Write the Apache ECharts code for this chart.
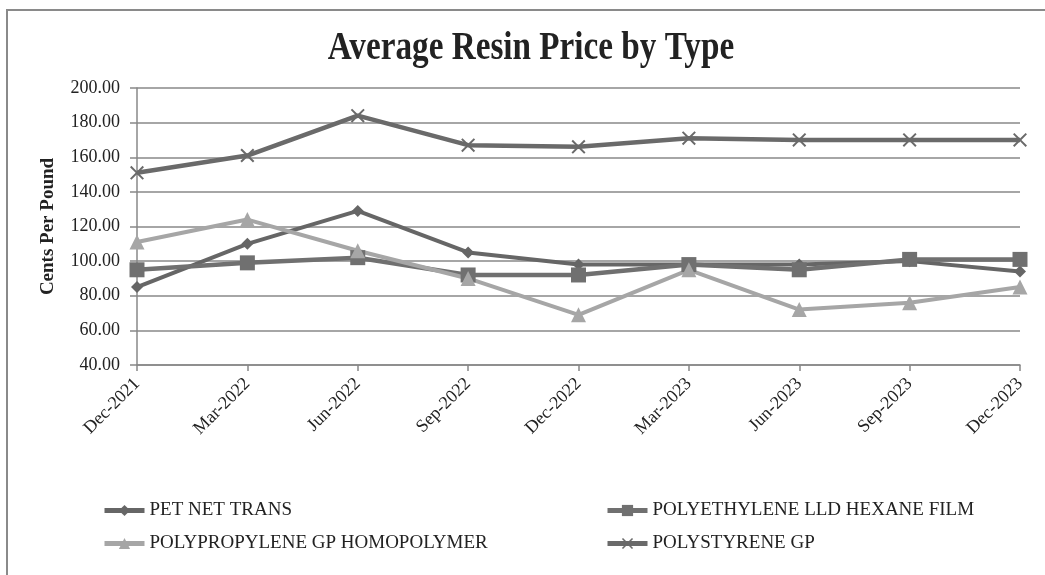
<!DOCTYPE html>
<html><head><meta charset="utf-8">
<script src="https://cdn.jsdelivr.net/npm/echarts@6/dist/echarts.min.js"></script>
<style>html,body{margin:0;padding:0;background:#fff}#c{width:1045px;height:575px}</style>
</head><body><div id="c"></div>
<script>
const categories = ['Dec-2021','Mar-2022','Jun-2022','Sep-2022','Dec-2022','Mar-2023','Jun-2023','Sep-2023','Dec-2023'];
const petNetTrans = [85, 110, 129, 105, 98, 98, 98, 100, 94];
const polyethyleneLLD = [95, 99, 102, 92, 92, 98, 95, 101, 101];
const polypropyleneGP = [111, 124, 106, 90, 69, 95, 72, 76, 85];
const polystyreneGP = [151, 161, 184, 167, 166, 171, 170, 170, 170];
const names = ['PET NET TRANS','POLYETHYLENE LLD HEXANE FILM','POLYPROPYLENE GP HOMOPOLYMER','POLYSTYRENE GP'];
const titleText = 'Average Resin Price by Type';

const font = '"Liberation Serif", "Times New Roman", serif';
const xSym = 'path://M0,1L1,0L5,4L9,0L10,1L6,5L10,9L9,10L5,6L1,10L0,9L4,5Z';
const chart = echarts.init(document.getElementById('c'));
function ser(name, data, color, symbol, size, width) {
  return { name, type: 'line', data, symbol, symbolSize: size, showAllSymbol: true,
    lineStyle: { color, width: width || 4 }, itemStyle: { color }, animation: false };
}
const legendText = { fontFamily: font, fontSize: 19, color: '#222' };
const legendBase = { orient: 'vertical', top: 496, itemWidth: 40, itemHeight: 14, itemGap: 14,
  lineStyle: { width: 5 }, textStyle: legendText };
chart.setOption({
  animation: false,
  textStyle: { fontFamily: font },
  graphic: [
    { type: 'rect', shape: { x: 7, y: 10, width: 1060, height: 600 },
      style: { fill: 'none', stroke: '#8a8a8a', lineWidth: 2 }, silent: true },
    { type: 'text', x: 531, y: 49, scaleX: 0.83, originX: 0, originY: 0, silent: true,
      style: { text: titleText, fontFamily: font, fontSize: 40, fontWeight: 'bold', fill: '#222',
        textAlign: 'center', textVerticalAlign: 'middle' } }
  ],
  grid: { left: 137, right: 25, top: 88, bottom: 210 },
  legend: [
    Object.assign({ left: 97, data: [names[0], names[2]] }, legendBase),
    Object.assign({ left: 600, data: [names[1], names[3]] }, legendBase)
  ],
  xAxis: { type: 'category', data: categories, boundaryGap: false,
    axisLine: { lineStyle: { color: '#888', width: 1.5 } },
    axisTick: { alignWithLabel: true, length: 6, lineStyle: { color: '#888', width: 1.5 } },
    axisLabel: { rotate: 45, fontFamily: font, fontSize: 18, color: '#222', margin: 16, interval: 0 } },
  yAxis: { type: 'value', min: 40, max: 200, interval: 20,
    name: 'Cents Per Pound', nameLocation: 'middle', nameGap: 79,
    nameTextStyle: { fontFamily: font, fontSize: 19, fontWeight: 'bold', color: '#222' },
    axisLine: { show: true, lineStyle: { color: '#888', width: 1.5 } },
    axisTick: { show: true, length: 7, lineStyle: { color: '#888', width: 1.5 } },
    splitLine: { lineStyle: { color: '#888', width: 1.5 } },
    axisLabel: { formatter: v => v.toFixed(2), fontFamily: font, fontSize: 18, color: '#222', margin: 17 } },
  series: [
    ser(names[0], petNetTrans, '#666666', 'diamond', 12),
    ser(names[1], polyethyleneLLD, '#707070', 'rect', 15, 4.5),
    ser(names[2], polypropyleneGP, '#a6a6a6', 'triangle', 15),
    ser(names[3], polystyreneGP, '#6a6a6a', xSym, 14, 4.5)
  ]
});
</script></body></html>
